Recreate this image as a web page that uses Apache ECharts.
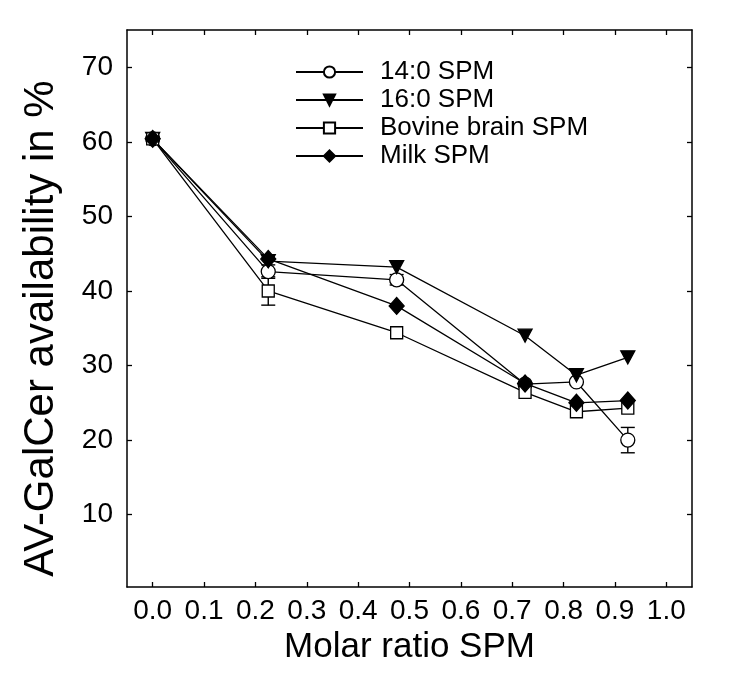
<!DOCTYPE html>
<html lang="en">
<head>
<meta charset="UTF-8">
<title>AV-GalCer availability</title>
<script src="https://cdn.jsdelivr.net/npm/echarts@6/dist/echarts.min.js"></script>
<style>
  html, body { margin: 0; padding: 0; background: #fff; }
  #chart { width: 750px; height: 681px; }
</style>
</head>
<body>
<div id="chart"></div>
<script>
// molar ratio of SPM on the x axis
var molar = [0, 0.225, 0.475, 0.725, 0.825, 0.925];
// AV-GalCer availability in %
var spm14 = [60.4, 42.6, 41.5, 27.5, 27.8, 20.0];
var spm16 = [60.4, 44.0, 43.2, 34.0, 28.7, 31.1];
var bovine = [60.4, 40.0, 34.4, 26.4, 23.8, 24.3];
var milk = [60.4, 44.3, 38.0, 27.6, 25.0, 25.3];
// error bars (+/-)
var err14 = [0, 0.9, 0.7, 0, 0, 1.7];
var errBovine = [0, 1.9, 0, 0, 0, 0];
// tick labels
var xTicks = [0, 0.1, 0.2, 0.3, 0.4, 0.5, 0.6, 0.7, 0.8, 0.9, 1.0];
var yTicks = [10, 20, 30, 40, 50, 60, 70];

var FONT = "'Liberation Sans', Arial, sans-serif";
var black = '#000';

function pairs(ys) {
  var out = [];
  for (var i = 0; i < molar.length; i++) out.push([molar[i], ys[i]]);
  return out;
}
function errorData(ys, errs) {
  var out = [];
  for (var i = 0; i < molar.length; i++) {
    if (errs[i] > 0) out.push([molar[i], ys[i] - errs[i], ys[i] + errs[i]]);
  }
  return out;
}
function renderError(params, api) {
  var x = api.value(0);
  var lo = api.coord([x, api.value(1)]);
  var hi = api.coord([x, api.value(2)]);
  var w = 7;
  var st = { stroke: black, lineWidth: 1.4 };
  return {
    type: 'group',
    children: [
      { type: 'line', shape: { x1: lo[0], y1: lo[1], x2: hi[0], y2: hi[1] }, style: st },
      { type: 'line', shape: { x1: lo[0] - w, y1: lo[1], x2: lo[0] + w, y2: lo[1] }, style: st },
      { type: 'line', shape: { x1: hi[0] - w, y1: hi[1], x2: hi[0] + w, y2: hi[1] }, style: st }
    ]
  };
}

var chart = echarts.init(document.getElementById('chart'), null, { renderer: 'canvas' });

var frameLine = { show: true, onZero: false, lineStyle: { color: black, width: 1.5 } };
var tickStyle = { color: black, width: 1.3 };

function lineSeries(name, ys, symbol, size, fill) {
  return {
    name: name,
    type: 'line',
    data: pairs(ys),
    symbol: symbol,
    symbolSize: size,
    showAllSymbol: true,
    lineStyle: { color: black, width: 1.3 },
    itemStyle: { color: fill, borderColor: black, borderWidth: 1.3 },
    emphasis: { disabled: true },
    z: 3
  };
}

var option = {
  animation: false,
  backgroundColor: '#fff',
  textStyle: { fontFamily: FONT, color: black },
  grid: { left: 127, right: 58, top: 30, bottom: 94 },
  legend: {
    data: ['14:0 SPM', '16:0 SPM', 'Bovine brain SPM', 'Milk SPM'],
    orient: 'vertical',
    left: 290,
    top: 54,
    itemWidth: 67,
    itemHeight: 14,
    itemGap: 2,
    textStyle: { fontSize: 26, lineHeight: 26, color: black, fontFamily: FONT, padding: [0, 0, 0, 12] },
    selectedMode: false
  },
  xAxis: [
    {
      type: 'value',
      position: 'bottom',
      min: -0.05,
      max: 1.05,
      axisLine: frameLine,
      axisTick: { show: true, inside: true, length: 5, customValues: xTicks, lineStyle: tickStyle },
      axisLabel: {
        customValues: xTicks,
        formatter: function (v) { return v.toFixed(1); },
        fontSize: 28, color: black, fontFamily: FONT, margin: 10
      },
      splitLine: { show: false },
      name: 'Molar ratio SPM',
      nameLocation: 'middle',
      nameGap: 26,
      nameTextStyle: { fontSize: 35, color: black, fontFamily: FONT }
    },
    {
      type: 'value',
      position: 'top',
      min: -0.05,
      max: 1.05,
      axisLine: frameLine,
      axisTick: { show: true, inside: true, length: 5, customValues: xTicks, lineStyle: tickStyle },
      axisLabel: { show: false },
      splitLine: { show: false }
    }
  ],
  yAxis: [
    {
      type: 'value',
      position: 'left',
      min: 0.3,
      max: 75,
      axisLine: frameLine,
      axisTick: { show: true, inside: true, length: 5, customValues: yTicks, lineStyle: tickStyle },
      axisLabel: { customValues: yTicks, fontSize: 28, color: black, fontFamily: FONT, margin: 14 },
      splitLine: { show: false },
      name: 'AV-GalCer availability in %',
      nameLocation: 'middle',
      nameRotate: 90,
      nameGap: 65,
      nameTextStyle: { fontSize: 42, color: black, fontFamily: FONT, padding: [0, 40, 0, 0] }
    },
    {
      type: 'value',
      position: 'right',
      min: 0.3,
      max: 75,
      axisLine: frameLine,
      axisTick: { show: true, inside: true, length: 5, customValues: yTicks, lineStyle: tickStyle },
      axisLabel: { show: false },
      splitLine: { show: false }
    }
  ],
  series: [
    {
      type: 'custom',
      name: 'err14',
      renderItem: renderError,
      encode: { x: 0, y: [1, 2] },
      data: errorData(spm14, err14),
      z: 2
    },
    {
      type: 'custom',
      name: 'errBovine',
      renderItem: renderError,
      encode: { x: 0, y: [1, 2] },
      data: errorData(bovine, errBovine),
      z: 2
    },
    lineSeries('14:0 SPM', spm14, 'circle', 14, '#fff'),
    lineSeries('16:0 SPM', spm16, 'path://M0,0 L10,0 L5,9 Z', [14, 13], black),
    lineSeries('Bovine brain SPM', bovine, 'rect', 12, '#fff'),
    lineSeries('Milk SPM', milk, 'diamond', [15, 17], black)
  ]
};

chart.setOption(option);
</script>
</body>
</html>
